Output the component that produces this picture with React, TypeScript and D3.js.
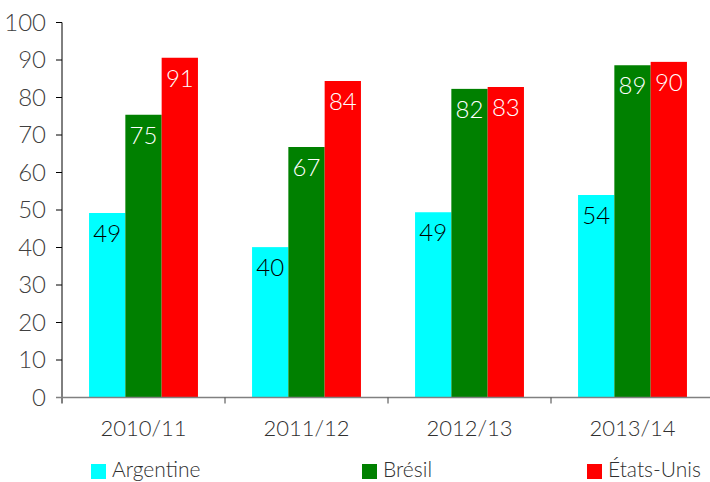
import React, { useEffect, useRef } from "react";
import * as d3 from "d3";

const seasons = ["2010/11", "2011/12", "2012/13", "2013/14"];
const seriesNames = ["Argentine", "Brésil", "États-Unis"];
const argentine = [49.2, 40.1, 49.4, 54.0];
const bresil = [75.4, 66.8, 82.3, 88.6];
const etatsUnis = [90.6, 84.4, 82.8, 89.5];
const yTicks = [0, 10, 20, 30, 40, 50, 60, 70, 80, 90, 100];

const colors = ["#00ffff", "#008000", "#ff0000"];
const labelColors = ["#000000", "#ffffff", "#ffffff"];
const FONT = "Lato, 'Open Sans', sans-serif";

export default function App() {
  const ref = useRef<SVGSVGElement>(null);

  useEffect(() => {
    const W = 710,
      H = 482;
    const svg = d3.select(ref.current).attr("width", W).attr("height", H);
    svg.selectAll("*").remove();

    const values = [argentine, bresil, etatsUnis];
    const rows = seasons.map((s, i) => ({
      season: s,
      vals: values.map((arr, k) => ({ key: seriesNames[k], k, v: arr[i] })),
    }));

    // scales
    const x = d3.scaleBand().domain(seasons).range([62, 714]).padding(0);
    const xs = d3
      .scaleBand()
      .domain(seriesNames)
      .range([0, x.bandwidth()])
      .paddingInner(0)
      .paddingOuter(0.745);
    const y = d3.scaleLinear().domain([0, 100]).range([397.5, 22.5]);

    // bars
    const groups = svg
      .selectAll("g.grp")
      .data(rows)
      .join("g")
      .attr("class", "grp")
      .attr("transform", (d) => `translate(${x(d.season)},0)`);

    groups
      .selectAll("rect")
      .data((d) => d.vals)
      .join("rect")
      .attr("x", (d) => xs(d.key)!)
      .attr("y", (d) => y(d.v))
      .attr("width", xs.bandwidth())
      .attr("height", (d) => y(0) - y(d.v))
      .attr("fill", (d) => colors[d.k]);

    groups
      .selectAll("text")
      .data((d) => d.vals)
      .join("text")
      .attr("x", (d) => xs(d.key)! + xs.bandwidth() / 2)
      .attr("y", (d) => y(d.v) + 29)
      .attr("text-anchor", "middle")
      .style("font-family", FONT)
      .style("font-size", "24px")
      .style("font-weight", 300)
      .attr("fill", (d) => labelColors[d.k])
      .text((d) => Math.round(d.v));

    // y axis
    svg
      .append("line")
      .attr("x1", 62)
      .attr("x2", 62)
      .attr("y1", y(100))
      .attr("y2", y(0) + 6)
      .attr("stroke", "#000")
      .attr("stroke-width", 1);
    const yt = svg.append("g");
    yt.selectAll("line")
      .data(yTicks)
      .join("line")
      .attr("x1", 56)
      .attr("x2", 62)
      .attr("y1", (d) => y(d))
      .attr("y2", (d) => y(d))
      .attr("stroke", "#000");
    yt.selectAll("text")
      .data(yTicks)
      .join("text")
      .attr("x", 46)
      .attr("y", (d) => y(d) + 8)
      .attr("text-anchor", "end")
      .style("font-family", FONT)
      .style("font-size", "24px")
      .style("font-weight", 300)
      .attr("fill", "#404040")
      .text((d) => d);

    // x axis
    svg
      .append("line")
      .attr("x1", 56)
      .attr("x2", 714)
      .attr("y1", y(0))
      .attr("y2", y(0))
      .attr("stroke", "#808080")
      .attr("stroke-width", 1.5);
    const bounds = seasons.slice(1).map((s) => x(s)!);
    svg
      .append("g")
      .selectAll("line")
      .data(bounds)
      .join("line")
      .attr("x1", (d) => d)
      .attr("x2", (d) => d)
      .attr("y1", y(0))
      .attr("y2", y(0) + 6)
      .attr("stroke", "#404040");
    svg
      .append("g")
      .selectAll("text")
      .data(seasons)
      .join("text")
      .attr("x", (d) => x(d)! + x.bandwidth() / 2)
      .attr("y", 436)
      .attr("text-anchor", "middle")
      .style("font-family", FONT)
      .style("font-size", "22px")
      .style("font-weight", 300)
      .attr("fill", "#303030")
      .text((d) => d);

    // legend
    const legendX = [91, 362, 587];
    const lg = svg
      .append("g")
      .selectAll("g")
      .data(seriesNames)
      .join("g")
      .attr("transform", (d, i) => `translate(${legendX[i]},464)`);
    lg.append("rect")
      .attr("width", 15)
      .attr("height", 15)
      .attr("fill", (d, i) => colors[i]);
    lg.append("text")
      .attr("x", 21)
      .attr("y", 13)
      .style("font-family", FONT)
      .style("font-size", "21px")
      .style("font-weight", 300)
      .attr("fill", "#303030")
      .text((d) => d);
  }, []);

  return (
    <svg
      ref={ref}
      style={{ position: "absolute", left: 0, top: 0, background: "#fff" }}
    />
  );
}
